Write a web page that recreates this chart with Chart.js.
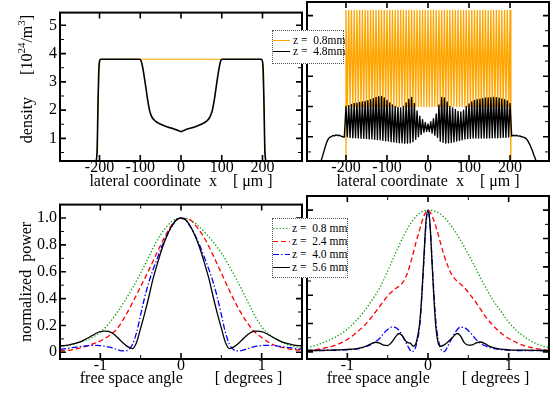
<!DOCTYPE html>
<html>
<head>
<meta charset="utf-8">
<title>density and far field</title>
<script src="https://cdn.jsdelivr.net/npm/chart.js@4.4.1/dist/chart.umd.min.js"></script>
<style>
  html, body { margin: 0; padding: 0; background: #fff; }
  #page { position: relative; width: 553px; height: 396px; overflow: hidden; background: #fff; }
  #page canvas { position: absolute; }
  .legend { position: absolute; background: #fff; border: 1px dotted #555; z-index: 3; box-sizing: border-box;
            font: 11.5px "Liberation Serif", serif; color: #000; }
  .legend .row { position: absolute; left: 0; height: 12px; line-height: 12px; white-space: pre; }
  .legend svg { position: absolute; left: 0; top: 0; }
  .legend span { position: absolute; top: 0; }
</style>
</head>
<body>
<div id="page">
  <canvas id="densLeft" width="305" height="192" style="left:0;top:0"></canvas>
  <canvas id="densRight" width="248" height="192" style="left:305px;top:0"></canvas>
  <canvas id="powLeft" width="305" height="204" style="left:0;top:192px"></canvas>
  <canvas id="powRight" width="248" height="204" style="left:305px;top:192px"></canvas>
  <div id="legTop" class="legend" style="left:272px;top:30px;width:72px;height:34px"></div>
  <div id="legBottom" class="legend" style="left:272px;top:218px;width:76px;height:60px"></div>
</div>
<script>
// legend labels
var topLabels = ['z =  0.8mm', 'z =  4.8mm'];
var powLabels = ['z =  0.8 mm', 'z =  2.4 mm', 'z =  4.0 mm', 'z =  5.6 mm'];

// tick values
var densTicksX = [-200, -100, 0, 100, 200];
var densTicksY = [1, 2, 3, 4, 5];
var densMinorY = [0.5, 1.5, 2.5, 3.5, 4.5];
var powTicksX = [-1, 0, 1];
var powTicksY = [0, 0.2, 0.4, 0.6, 0.8, 1];
var powMinorX = [-0.5, 0.5];
var powMinorY = [0.1, 0.3, 0.5, 0.7, 0.9];

// top left : density, smooth profile
var tlOrangeX = [-212, -206, -203, -201, -199, -197, 197, 199, 201, 203, 206, 212];
var tlOrange  = [0.0, 0.6, 2.5, 3.5, 3.78, 3.8, 3.8, 3.78, 3.5, 2.5, 0.6, 0.0];
var tlBlackX = [-212, -206, -204, -202, -200, -197, -101, -98, -95, -92, -89, -86, -83, -80, -77, -74, -70, -65, -60, -55,
                -50, -45, -40, -35, -30, -25, -20, -15, -10, -5, 0, 5, 10, 15, 20, 25, 30, 35, 40, 45, 50, 55, 60, 65,
                70, 74, 77, 80, 83, 86, 89, 92, 95, 98, 101, 197, 200, 202, 204, 206, 212];
var tlBlack  = [0.0, 0.5, 2.0, 3.3, 3.72, 3.8, 3.8, 3.74, 3.58, 3.34, 3.06, 2.78, 2.47, 2.2, 1.98, 1.84, 1.72, 1.64, 1.58, 1.54,
                1.5, 1.47, 1.44, 1.41, 1.39, 1.37, 1.35, 1.32, 1.3, 1.27, 1.24, 1.27, 1.3, 1.33, 1.35, 1.37, 1.39, 1.41, 1.44, 1.47, 1.5, 1.54, 1.58, 1.64,
                1.73, 1.86, 2.0, 2.22, 2.48, 2.78, 3.08, 3.36, 3.6, 3.76, 3.8, 3.8, 3.72, 3.3, 2.0, 0.5, 0.0];

// top right : density with the fast modulation
var trX = [-200, -196.7, -193.3, -190, -186.7, -183.3, -180, -176.7, -173.3, -170, -166.7, -163.3, -160, -156.7, -153.3,
           -150, -146.7, -143.3, -140, -136.7, -133.3, -130, -126.7, -123.3, -120, -116.7, -113.3, -110, -106.7, -103.3,
           -100, -96.7, -93.3, -90, -86.7, -83.3, -80, -76.7, -73.3, -70, -66.7, -63.3, -60, -56.7, -53.3,
           -50, -46.7, -43.3, -40, -36.7, -33.3, -30, -26.7, -23.3, -20, -16.7, -13.3, -10, -6.7, -3.3,
           0, 3.3, 6.7, 10, 13.3, 16.7, 20, 23.3, 26.7, 30, 33.3, 36.7, 40, 43.3, 46.7,
           50, 53.3, 56.7, 60, 63.3, 66.7, 70, 73.3, 76.7, 80, 83.3, 86.7, 90, 93.3, 96.7,
           100, 103.3, 106.7, 110, 113.3, 116.7, 120, 123.3, 126.7, 130, 133.3, 136.7, 140, 143.3, 146.7,
           150, 153.3, 156.7, 160, 163.3, 166.7, 170, 173.3, 176.7, 180, 183.3, 186.7, 190, 193.3, 196.7, 200];
var trOrange = [5.17, 2.0, 5.17, 2.0, 5.17, 2.0, 5.17, 2.0, 5.17, 2.0, 5.17, 2.0, 5.17, 2.0, 5.17, 2.0, 5.17, 2.0, 5.17, 2.0,
                5.17, 2.0, 5.17, 2.0, 5.17, 2.0, 5.17, 2.0, 5.17, 2.0, 5.17, 2.0, 5.17, 2.0, 5.17, 2.0, 5.17, 2.0, 5.17, 2.0,
                5.17, 2.0, 5.17, 2.0, 5.17, 2.0, 5.17, 2.0, 5.17, 2.0, 5.17, 2.0, 5.17, 2.0, 5.17, 2.0, 5.17, 2.0, 5.17, 2.0,
                5.17, 2.0, 5.17, 2.0, 5.17, 2.0, 5.17, 2.0, 5.17, 2.0, 5.17, 2.0, 5.17, 2.0, 5.17, 2.0, 5.17, 2.0, 5.17, 2.0,
                5.17, 2.0, 5.17, 2.0, 5.17, 2.0, 5.17, 2.0, 5.17, 2.0, 5.17, 2.0, 5.17, 2.0, 5.17, 2.0, 5.17, 2.0, 5.17, 2.0,
                5.17, 2.0, 5.17, 2.0, 5.17, 2.0, 5.17, 2.0, 5.17, 2.0, 5.17, 2.0, 5.17, 2.0, 5.17, 2.0, 5.17, 2.0, 5.17, 2.0,
                5.17];
var trBlack = [2.0, 1.0, 2.03, 0.98, 2.07, 0.97, 2.1, 0.97, 2.11, 0.96, 2.13, 0.95, 2.15, 0.95, 2.17, 0.94, 2.19, 0.93, 2.22, 0.93,
               2.26, 0.92, 2.3, 0.91, 2.32, 0.9, 2.33, 0.88, 2.28, 0.87, 2.2, 0.86, 2.12, 0.84, 2.05, 0.83, 2.0, 0.82, 1.97, 0.8,
               1.95, 0.8, 2.0, 0.79, 2.12, 0.79, 2.24, 0.8, 2.3, 0.84, 2.1, 0.92, 1.85, 1.0, 1.68, 1.08, 1.56, 1.15, 1.47, 1.18,
               1.42, 1.17, 1.5, 1.12, 1.6, 1.05, 1.75, 0.98, 2.05, 0.85, 2.3, 0.82, 2.28, 0.79, 2.15, 0.8, 2.0, 0.81, 1.95, 0.83,
               1.9, 0.86, 1.84, 0.88, 1.82, 0.9, 1.88, 0.93, 2.0, 0.94, 2.08, 0.95, 2.15, 0.96, 2.2, 0.96, 2.22, 0.96, 2.24, 0.96,
               2.26, 0.96, 2.28, 0.96, 2.28, 0.96, 2.29, 0.97, 2.3, 0.97, 2.29, 0.97, 2.27, 0.98, 2.25, 0.98, 2.22, 0.98, 2.18, 0.99,
               2.1];
var trEdgeLX = [-202], trEdgeL = [0.0];
var trEdgeRX = [202],  trEdgeR = [0.0];
var trTailLX = [-268, -264, -261, -258, -255, -252, -249, -246, -243, -240, -236, -232, -228, -224, -220, -216, -212, -208, -204];
var trTailL  = [0.0, 0.1, 0.2, 0.32, 0.46, 0.6, 0.74, 0.85, 0.93, 0.98, 1.0, 1.04, 1.03, 1.06, 1.04, 1.05, 1.02, 1.0, 0.99];
var trTailRX = [204, 208, 212, 216, 220, 224, 228, 232, 236, 240, 243, 246, 249, 252, 255, 258, 261, 264, 268];
var trTailR  = [1.02, 1.05, 1.03, 1.05, 1.02, 1.03, 1.0, 0.99, 0.97, 0.93, 0.87, 0.8, 0.72, 0.62, 0.52, 0.4, 0.3, 0.18, 0.05];

// bottom : normalized far field power
var angX10 = [-1.5, -1.4, -1.3, -1.2, -1.1, -1.0, -0.9, -0.8, -0.7, -0.6, -0.5, -0.4, -0.3, -0.2, -0.1, 0,
              0.1, 0.2, 0.3, 0.4, 0.5, 0.6, 0.7, 0.8, 0.9, 1.0, 1.1, 1.2, 1.3, 1.4, 1.5];
var angX05 = [-1.5, -1.45, -1.4, -1.35, -1.3, -1.25, -1.2, -1.15, -1.1, -1.05, -1.0, -0.95, -0.9, -0.85, -0.8, -0.75,
              -0.7, -0.65, -0.6, -0.55, -0.5, -0.45, -0.4, -0.35, -0.3, -0.25, -0.2, -0.15, -0.1, -0.05, 0,
              0.05, 0.1, 0.15, 0.2, 0.25, 0.3, 0.35, 0.4, 0.45, 0.5, 0.55, 0.6, 0.65, 0.7, 0.75,
              0.8, 0.85, 0.9, 0.95, 1.0, 1.05, 1.1, 1.15, 1.2, 1.25, 1.3, 1.35, 1.4, 1.45, 1.5];

var blGreen = [0.04, 0.05, 0.065, 0.085, 0.11, 0.15, 0.21, 0.29, 0.38, 0.48, 0.59, 0.71, 0.83, 0.92, 0.98, 1.0,
               0.99, 0.95, 0.89, 0.82, 0.74, 0.64, 0.53, 0.41, 0.29, 0.19, 0.13, 0.09, 0.062, 0.044, 0.03];
var blRed   = [0.01, 0.015, 0.025, 0.04, 0.06, 0.085, 0.12, 0.17, 0.26, 0.37, 0.49, 0.61, 0.74, 0.86, 0.96, 0.995,
               0.99, 0.93, 0.84, 0.72, 0.59, 0.46, 0.34, 0.24, 0.16, 0.11, 0.07, 0.045, 0.03, 0.02, 0.015];
var blBlue  = [0.022, 0.026, 0.03, 0.034, 0.038, 0.042, 0.046, 0.05, 0.052, 0.052, 0.05, 0.046, 0.04, 0.032, 0.022, 0.013,
               0.01, 0.02, 0.06, 0.15, 0.28, 0.41, 0.52, 0.61, 0.69, 0.77, 0.84, 0.9, 0.95, 0.99, 1.0,
               0.99, 0.95, 0.9, 0.84, 0.77, 0.69, 0.61, 0.52, 0.41, 0.28, 0.15, 0.06, 0.02, 0.01, 0.013,
               0.022, 0.032, 0.04, 0.046, 0.05, 0.052, 0.052, 0.05, 0.046, 0.042, 0.038, 0.034, 0.03, 0.026, 0.022];
var blBlack = [0.048, 0.05, 0.054, 0.06, 0.068, 0.078, 0.092, 0.108, 0.125, 0.142, 0.153, 0.158, 0.155, 0.142, 0.118, 0.088,
               0.06, 0.038, 0.028, 0.075, 0.18, 0.29, 0.41, 0.54, 0.645, 0.745, 0.83, 0.9, 0.955, 0.99, 1.0,
               0.99, 0.955, 0.9, 0.83, 0.745, 0.645, 0.54, 0.41, 0.29, 0.18, 0.075, 0.028, 0.038, 0.06, 0.088,
               0.118, 0.142, 0.155, 0.158, 0.153, 0.142, 0.125, 0.108, 0.092, 0.078, 0.068, 0.06, 0.054, 0.05, 0.048];

var brGreen = [0.03, 0.045, 0.065, 0.09, 0.12, 0.16, 0.215, 0.28, 0.36, 0.45, 0.57, 0.7, 0.82, 0.92, 0.98, 1.0,
               0.99, 0.95, 0.88, 0.79, 0.69, 0.58, 0.47, 0.37, 0.29, 0.21, 0.15, 0.105, 0.07, 0.045, 0.03];
var brRedX = [-1.5, -1.4, -1.3, -1.2, -1.1, -1.0, -0.9, -0.8, -0.7, -0.6, -0.5, -0.45, -0.4, -0.35, -0.3, -0.25, -0.2, -0.15, -0.1, -0.05, 0,
              0.05, 0.1, 0.15, 0.2, 0.25, 0.3, 0.35, 0.4, 0.45, 0.5, 0.6, 0.7, 0.8, 0.9, 1.0, 1.1, 1.2, 1.3, 1.4, 1.5];
var brRed  = [0.01, 0.015, 0.025, 0.038, 0.058, 0.088, 0.13, 0.18, 0.245, 0.32, 0.395, 0.425, 0.448, 0.468, 0.5, 0.565, 0.66, 0.77, 0.87, 0.96, 1.0,
              0.96, 0.88, 0.78, 0.68, 0.6, 0.54, 0.505, 0.48, 0.455, 0.42, 0.345, 0.26, 0.19, 0.135, 0.095, 0.065, 0.043, 0.028, 0.018, 0.01];
var brBlueX = [-1.5, -1.3, -1.1, -1.0, -0.9, -0.8, -0.7, -0.6, -0.55, -0.5, -0.45, -0.4, -0.35, -0.3, -0.25, -0.2, -0.15, -0.1, -0.075, -0.05, -0.025, 0,
               0.025, 0.05, 0.075, 0.1, 0.15, 0.2, 0.25, 0.3, 0.35, 0.4, 0.45, 0.5, 0.55, 0.6, 0.7, 0.8, 0.9, 1.0, 1.1, 1.3, 1.5];
var brBlue  = [0.01, 0.01, 0.012, 0.014, 0.02, 0.032, 0.055, 0.095, 0.13, 0.158, 0.175, 0.172, 0.145, 0.095, 0.04, 0.002, 0.04, 0.2, 0.4, 0.65, 0.9, 1.0,
               0.9, 0.65, 0.4, 0.2, 0.035, 0.002, 0.045, 0.1, 0.148, 0.174, 0.172, 0.15, 0.12, 0.085, 0.045, 0.025, 0.016, 0.012, 0.01, 0.01, 0.01];
var brBlackX = [-1.5, -1.4, -1.3, -1.2, -1.1, -1.0, -0.9, -0.8, -0.75, -0.7, -0.65, -0.6, -0.55, -0.5, -0.45, -0.4, -0.36, -0.32, -0.28, -0.25,
                -0.22, -0.18, -0.15, -0.125, -0.1, -0.075, -0.05, -0.025, 0,
                0.025, 0.05, 0.075, 0.1, 0.125, 0.15, 0.2, 0.25, 0.3, 0.36, 0.4, 0.45, 0.5, 0.55, 0.6, 0.65, 0.7, 0.75, 0.8,
                0.9, 1.0, 1.1, 1.2, 1.3, 1.4, 1.5];
var brBlack  = [0.01, 0.01, 0.011, 0.013, 0.015, 0.018, 0.022, 0.034, 0.045, 0.058, 0.068, 0.062, 0.048, 0.045, 0.068, 0.108, 0.13, 0.115, 0.08, 0.066,
                0.062, 0.04, 0.06, 0.12, 0.22, 0.42, 0.68, 0.92, 1.0,
                0.9, 0.63, 0.36, 0.16, 0.065, 0.04, 0.05, 0.072, 0.1, 0.13, 0.115, 0.065, 0.048, 0.05, 0.064, 0.07, 0.06, 0.043, 0.032,
                0.02, 0.015, 0.013, 0.012, 0.011, 0.01, 0.01];

Chart.defaults.font.family = '"Liberation Serif", "Times New Roman", serif';
Chart.defaults.color = '#000';

function pts(xs, ys) {
    return xs.map(function(x, i) { return { x: x, y: ys[i] }; });
}

// frame round the plot with ticks pointing inwards, on all four sides
var frameTicks = {
    id: 'frameTicks',
    afterDatasetsDraw: function(chart, args, opts) {
        var ctx = chart.ctx, a = chart.chartArea;
        var sx = chart.scales.x, sy = chart.scales.y;
        function tick(px, py, dx, dy) { ctx.moveTo(px, py); ctx.lineTo(px + dx, py + dy); }
        ctx.save();
        ctx.strokeStyle = '#000';
        ctx.lineWidth = 1.6;
        ctx.beginPath();
        sx.ticks.forEach(function(t) {
            var p = sx.getPixelForValue(t.value);
            tick(p, a.bottom, 0, -6); tick(p, a.top, 0, 6);
        });
        sy.ticks.forEach(function(t) {
            var p = sy.getPixelForValue(t.value);
            tick(a.left, p, 6, 0); tick(a.right, p, -6, 0);
        });
        ctx.stroke();
        ctx.lineWidth = 1;
        ctx.beginPath();
        (opts.xMinor || []).forEach(function(v) {
            var p = sx.getPixelForValue(v);
            tick(p, a.bottom, 0, -4); tick(p, a.top, 0, 4);
        });
        (opts.yMinor || []).forEach(function(v) {
            var p = sy.getPixelForValue(v);
            tick(a.left, p, 4, 0); tick(a.right, p, -4, 0);
        });
        ctx.stroke();
        ctx.lineWidth = 2;
        ctx.strokeRect(a.left, a.top, a.right - a.left, a.bottom - a.top);
        ctx.restore();
    }
};
Chart.register(frameTicks);

// y title of the density panel, with the exponents raised
var densityTitle = {
    id: 'densityTitle',
    afterDraw: function(chart) {
        var ctx = chart.ctx;
        var big = '16px "Liberation Serif"', small = '11px "Liberation Serif"';
        var parts = [['density', big, 0, 22], ['[10', big, 0, 0], ['24', small, -6, 0],
                     ['/m', big, 0, 0], ['3', small, -6, 0], [']', big, 0, 0]];
        var total = 0;
        parts.forEach(function(p) { ctx.font = p[1]; total += ctx.measureText(p[0]).width + p[3]; });
        ctx.save();
        ctx.translate(28, 79);
        ctx.rotate(-Math.PI / 2);
        ctx.fillStyle = '#000';
        ctx.textBaseline = 'middle';
        var x = -total / 2;
        parts.forEach(function(p) {
            ctx.font = p[1];
            ctx.fillText(p[0], x, p[2]);
            x += ctx.measureText(p[0]).width + p[3];
        });
        ctx.restore();
    }
};

function fixedTicks(values) {
    return function(s) { s.ticks = values.map(function(v) { return { value: v }; }); };
}

function panel(o) {
    return {
        type: 'line',
        data: { datasets: o.datasets },
        plugins: o.plugins || [],
        options: {
            responsive: false,
            animation: false,
            events: [],
            layout: { padding: o.padding },
            elements: { point: { radius: 0 }, line: { borderJoinStyle: 'round' } },
            plugins: {
                legend: { display: false },
                tooltip: { enabled: false },
                frameTicks: { xMinor: o.xMinor, yMinor: o.yMinor }
            },
            scales: {
                x: {
                    type: 'linear', min: o.xMin, max: o.xMax,
                    grid: { display: false, drawTicks: false }, border: { display: false },
                    afterBuildTicks: fixedTicks(o.xTicks),
                    ticks: { autoSkip: false, maxRotation: 0, padding: -3, color: '#000', font: { size: 16 } },
                    title: { display: true, text: o.xTitle, color: '#000', font: { size: 16 },
                             padding: { top: 0, bottom: o.xTitlePad } },
                    afterFit: function(s) { s.height = o.xHeight; }
                },
                y: {
                    type: 'linear', min: o.yMin, max: o.yMax,
                    grid: { display: false, drawTicks: false }, border: { display: false },
                    afterBuildTicks: fixedTicks(o.yTicks),
                    ticks: { display: o.yLabels, autoSkip: false, padding: 3, color: '#000', font: { size: 16 } },
                    title: o.yTitle ? { display: true, text: o.yTitle, color: '#000', font: { size: 16 },
                                        padding: { top: 17, bottom: 0 } } : { display: false },
                    afterFit: function(s) { s.width = o.yWidth; }
                }
            }
        }
    };
}

// the black curve sits on top of the orange one
function densSets(orange, black, orangeWidth, blackWidth) {
    return [
        { label: topLabels[0], data: orange, borderColor: '#ffa500', borderWidth: orangeWidth, order: 2 },
        { label: topLabels[1], data: black, borderColor: '#000000', borderWidth: blackWidth, order: 1 }
    ];
}

function powSets(green, red, blue, black) {
    var colors = ['#00a000', '#ff0000', '#0000ff', '#000000'];
    var dashes = [[1.3, 2], [5, 3], [6, 2.2, 1.4, 2.2], []];
    return [green, red, blue, black].map(function(d, i) {
        return { label: powLabels[i], data: d, borderColor: colors[i], borderDash: dashes[i], borderWidth: 1.3,
                 order: 4 - i, cubicInterpolationMode: 'monotone' };
    });
}

var lateralTitle = 'lateral coordinate  x    [ \u03bcm ]';
var angleTitle = 'free space angle        [ degrees ]';

var tlData = densSets(pts(tlOrangeX, tlOrange), pts(tlBlackX, tlBlack), 1.1, 1.6);
tlData.forEach(function(d) { d.cubicInterpolationMode = 'monotone'; });

var chartTL = new Chart(document.getElementById('densLeft'), panel({
    datasets: tlData, plugins: [densityTitle],
    padding: { left: 0, right: 3, top: 2, bottom: 0 },
    xMin: -297, xMax: 297, xTicks: densTicksX, xTitle: lateralTitle, xTitlePad: 1, xHeight: 31,
    yMin: 0.2, yMax: 5.45, yTicks: densTicksY, yLabels: true, yWidth: 60, yMinor: densMinorY
}));

var chartTR = new Chart(document.getElementById('densRight'), panel({
    datasets: densSets(pts(trEdgeLX.concat(trX, trEdgeRX), trEdgeL.concat(trOrange, trEdgeR)),
                       pts(trTailLX.concat(trX, trTailRX), trTailL.concat(trBlack, trTailR)), 1.3, 1.4),
    padding: { left: 0, right: 4, top: 2, bottom: 0 },
    xMin: -295, xMax: 295, xTicks: densTicksX, xTitle: lateralTitle, xTitlePad: 1, xHeight: 31,
    yMin: 0.2, yMax: 5.45, yTicks: densTicksY, yLabels: false, yWidth: 2, yMinor: densMinorY
}));

var chartBL = new Chart(document.getElementById('powLeft'), panel({
    datasets: powSets(pts(angX10, blGreen), pts(angX10, blRed), pts(angX05, blBlue), pts(angX05, blBlack)),
    padding: { left: 0, right: 3, top: 4, bottom: 0 },
    xMin: -1.5, xMax: 1.5, xTicks: powTicksX, xTitle: angleTitle, xTitlePad: 8, xHeight: 37, xMinor: powMinorX,
    yMin: -0.05, yMax: 1.1, yTicks: powTicksY, yLabels: true, yWidth: 60, yMinor: powMinorY, yTitle: 'normalized  power'
}));

var chartBR = new Chart(document.getElementById('powRight'), panel({
    datasets: powSets(pts(angX10, brGreen), pts(brRedX, brRed), pts(brBlueX, brBlue), pts(brBlackX, brBlack)),
    padding: { left: 0, right: 4, top: 4, bottom: 0 },
    xMin: -1.5, xMax: 1.5, xTicks: powTicksX, xTitle: angleTitle, xTitlePad: 8, xHeight: 37, xMinor: powMinorX,
    yMin: -0.05, yMax: 1.1, yTicks: powTicksY, yLabels: false, yWidth: 2, yMinor: powMinorY
}));

// legends as html boxes, built from the datasets
function htmlLegend(chart, boxId, rowTop, rowStep, textLeft) {
    var box = document.getElementById(boxId);
    chart.data.datasets.forEach(function(ds, i) {
        var row = document.createElement('div');
        row.className = 'row';
        row.style.top = (rowTop + i * rowStep - 6) + 'px';
        var dash = (ds.borderDash || []).join(' ');
        row.innerHTML = '<svg width="17" height="12"><line x1="0" y1="6.5" x2="17" y2="6.5" stroke="' + ds.borderColor +
            '" stroke-width="1" stroke-dasharray="' + dash + '"/></svg>' +
            '<span style="left:' + textLeft + 'px">' + ds.label + '</span>';
        box.appendChild(row);
    });
}
htmlLegend(chartTR, 'legTop', 9, 11, 20);
htmlLegend(chartBR, 'legBottom', 9, 13, 19);
</script>
</body>
</html>
